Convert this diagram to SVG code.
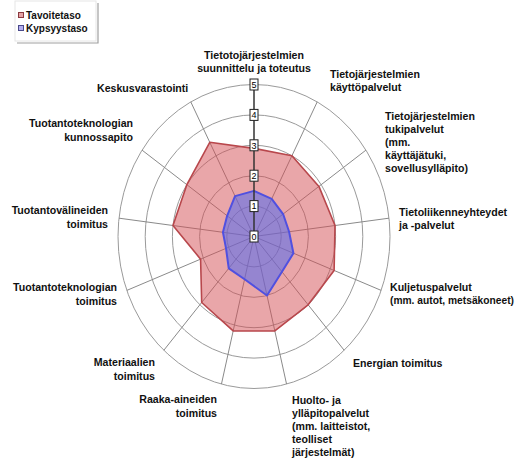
<svg xmlns="http://www.w3.org/2000/svg" width="521" height="459" viewBox="0 0 521 459">
<style>
.ring{fill:none;stroke:#9a9a9a;stroke-width:1}
.spoke{stroke:#8a8a8a;stroke-width:1}
.lbl{font-family:"Liberation Sans",Arial,sans-serif;font-weight:bold;font-size:10.6px;fill:#111}
.r{text-anchor:end}
.m{text-anchor:middle}
.num{font-family:"Liberation Sans",Arial,sans-serif;font-size:9px;fill:#000;text-anchor:middle}
.nb{fill:#fff;stroke:#222;stroke-width:1}
.leg{font-family:"Liberation Sans",Arial,sans-serif;font-weight:bold;font-size:10px;fill:#111}
</style>
<rect width="521" height="459" fill="#fff"/>
<g id="legend">
<rect x="15" y="1" width="81" height="40" fill="#fff" stroke="#e6e6e6"/>
<path d="M98 3V43H17" fill="none" stroke="#a0a0a0" stroke-width="1.2"/>
<rect x="18.5" y="12.5" width="5" height="5" fill="#e5a3a5" stroke="#8a3a40"/>
<text class="leg" x="26" y="19">Tavoitetaso</text>
<rect x="18.5" y="25.5" width="5" height="5" fill="#b4aef0" stroke="#4a4a8a"/>
<text class="leg" x="26" y="32">Kypsyystaso</text>
</g>
<g id="grid">
<ellipse class="ring" cx="254" cy="236.5" rx="27.2" ry="30.4"/>
<ellipse class="ring" cx="254" cy="236.5" rx="54.4" ry="60.8"/>
<ellipse class="ring" cx="254" cy="236.5" rx="81.6" ry="91.2"/>
<ellipse class="ring" cx="254" cy="236.5" rx="108.8" ry="121.6"/>
<ellipse class="ring" cx="254" cy="236.5" rx="136" ry="152"/>
<g class="spoke">
<line x1="254" y1="236.5" x2="317.20" y2="101.91"/>
<line x1="254" y1="236.5" x2="365.93" y2="150.15"/>
<line x1="254" y1="236.5" x2="389.01" y2="218.18"/>
<line x1="254" y1="236.5" x2="381.16" y2="290.40"/>
<line x1="254" y1="236.5" x2="344.18" y2="350.27"/>
<line x1="254" y1="236.5" x2="286.55" y2="384.08"/>
<line x1="254" y1="236.5" x2="221.45" y2="384.08"/>
<line x1="254" y1="236.5" x2="163.82" y2="350.27"/>
<line x1="254" y1="236.5" x2="126.84" y2="290.40"/>
<line x1="254" y1="236.5" x2="118.99" y2="218.18"/>
<line x1="254" y1="236.5" x2="142.07" y2="150.15"/>
<line x1="254" y1="236.5" x2="190.80" y2="101.91"/>
</g>
</g>
<g id="series-tavoitetaso">
<polygon points="254,148.34 291.92,155.75 318.92,186.42 335.01,225.51 334.11,270.46 308.11,304.76 274.83,330.95 233.17,330.95 201.69,302.49 200.59,259.14 172.99,225.51 186.84,184.69 209.76,142.29" fill="rgb(212,78,84)" fill-opacity="0.5" stroke="#b8474c" stroke-width="1.6" stroke-linejoin="round"/>
</g>
<g id="series-kypsyystaso">
<polygon points="254,190.9 271.70,198.82 283.10,214.05 289.10,231.74 293.42,253.21 281.96,271.77 267.02,295.53 244.56,279.30 228.75,268.36 226.02,248.36 222.95,232.29 227.14,215.78 235.04,196.12" fill="rgb(80,105,240)" fill-opacity="0.55" stroke="#5050e0" stroke-width="2" stroke-linejoin="round"/>
</g>
<g id="value-axis">
<line x1="254" y1="236.5" x2="254" y2="84.5" stroke="#333" stroke-width="1.5"/>
<rect class="nb" x="250" y="231" width="8" height="11"/><text class="num" x="254" y="239.8">0</text>
<rect class="nb" x="250" y="200.6" width="8" height="11"/><text class="num" x="254" y="209.4">1</text>
<rect class="nb" x="250" y="170.2" width="8" height="11"/><text class="num" x="254" y="179">2</text>
<rect class="nb" x="250" y="139.8" width="8" height="11"/><text class="num" x="254" y="148.6">3</text>
<rect class="nb" x="250" y="109.4" width="8" height="11"/><text class="num" x="254" y="118.2">4</text>
<rect class="nb" x="250" y="79" width="8" height="11"/><text class="num" x="254" y="87.8">5</text>
</g>
<g id="labels">
<text class="lbl m" x="254" y="59">Tietotojärjestelmien</text>
<text class="lbl m" x="254" y="72">suunnittelu ja toteutus</text>
<text class="lbl" x="330" y="78">Tietojärjestelmien</text>
<text class="lbl" x="330" y="91">käyttöpalvelut</text>
<text class="lbl" x="385" y="120">Tietojärjestelmien</text>
<text class="lbl" x="385" y="133">tukipalvelut</text>
<text class="lbl" x="385" y="146">(mm.</text>
<text class="lbl" x="385" y="159">käyttäjätuki,</text>
<text class="lbl" x="385" y="172">sovellusylläpito)</text>
<text class="lbl" x="399" y="216">Tietoliikenneyhteydet</text>
<text class="lbl" x="399" y="229">ja -palvelut</text>
<text class="lbl" x="390" y="291">Kuljetuspalvelut</text>
<text class="lbl" x="390" y="304" textLength="124" lengthAdjust="spacingAndGlyphs">(mm. autot, metsäkoneet)</text>
<text class="lbl" x="353" y="367">Energian toimitus</text>
<text class="lbl" x="292" y="404">Huolto- ja</text>
<text class="lbl" x="292" y="417">ylläpitopalvelut</text>
<text class="lbl" x="292" y="430">(mm. laitteistot,</text>
<text class="lbl" x="292" y="443">teolliset</text>
<text class="lbl" x="292" y="456">järjestelmät)</text>
<text class="lbl r" x="217" y="403">Raaka-aineiden</text>
<text class="lbl r" x="217" y="417">toimitus</text>
<text class="lbl r" x="155" y="366">Materiaalien</text>
<text class="lbl r" x="155" y="380">toimitus</text>
<text class="lbl r" x="117" y="291">Tuotantoteknologian</text>
<text class="lbl r" x="117" y="305">toimitus</text>
<text class="lbl r" x="108" y="214">Tuotantovälineiden</text>
<text class="lbl r" x="108" y="228">toimitus</text>
<text class="lbl r" x="133" y="127">Tuotantoteknologian</text>
<text class="lbl r" x="133" y="141">kunnossapito</text>
<text class="lbl" x="97" y="92">Keskusvarastointi</text>
</g>
</svg>
